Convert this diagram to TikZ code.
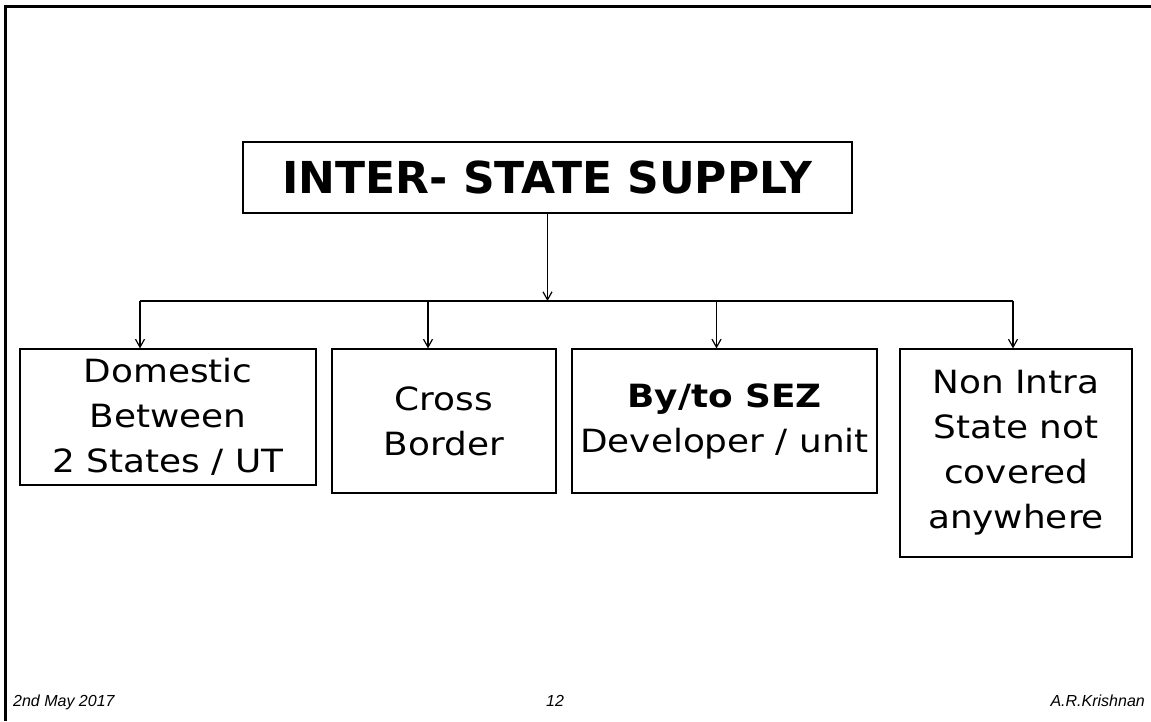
\documentclass[tikz,border=0pt]{standalone}
\usepackage{fontspec}
\setmainfont{DejaVu Sans}
\newfontfamily\boxfont[FakeStretch=1.12]{DejaVu Sans}
\newfontfamily\footfont{Liberation Sans}
\usetikzlibrary{arrows.meta, positioning}
\tikzset{
  conn/.style={line width=1.2pt, -{Straight Barb[length=8pt, width=9pt]}},
  leaf/.style={draw, line width=1.2pt, inner sep=0pt, align=center, font=\boxfont\fontsize{32}{45}\selectfont},
  footer/.style={font=\footfont\itshape\fontsize{16}{18}\selectfont, inner sep=0pt}
}

\begin{document}
\begin{tikzpicture}[x=1pt, y=-1pt]
\useasboundingbox (0,0) rectangle (1151,721);
% slide frame
\draw[line width=3pt] (5,721) -- (5,6) -- (1151,6);
\node[draw, line width=1.2pt, minimum width=609pt, minimum height=71pt, inner sep=0pt, font=\bfseries\fontsize{44}{50}\selectfont] (top) at (547.5,177.5) {INTER- STATE SUPPLY};
\node[leaf, minimum width=296pt, minimum height=136pt] (dom) at (168,417) {Domestic\\Between\\2 States / UT};
\node[leaf, minimum width=224pt, minimum height=144pt] (cross) at (444,421) {Cross\\Border};
\node[leaf, minimum width=305pt, minimum height=144pt] (sez) at (724.5,421) {{\bfseries By/to SEZ}\\Developer / unit};
\node[leaf, minimum width=232pt, minimum height=208pt] (nonintra) at (1016,453) {Non Intra\\State not\\covered\\anywhere};
% bus
\coordinate (busL) at (140,301);
\coordinate (busR) at (1013,301);
\draw[conn] (top.south) -- (top.south |- busL);
\draw[line width=1.2pt] (busL) -- (busR);
\foreach \x/\n in {140/dom, 428/cross, 716.5/sez, 1013/nonintra} {
  \coordinate (drop\n) at (\x,301);
  \draw[conn] (drop\n) -- (drop\n |- \n.north);
}
% footer
\node[footer, anchor=base west] (date) at (13,706.7) {2nd May 2017};
\node[footer, anchor=base] (page) at (555,706.7) {12};
\node[footer, anchor=base east] (author) at (1145,706.7) {A.R.Krishnan};
\end{tikzpicture}
\end{document}
